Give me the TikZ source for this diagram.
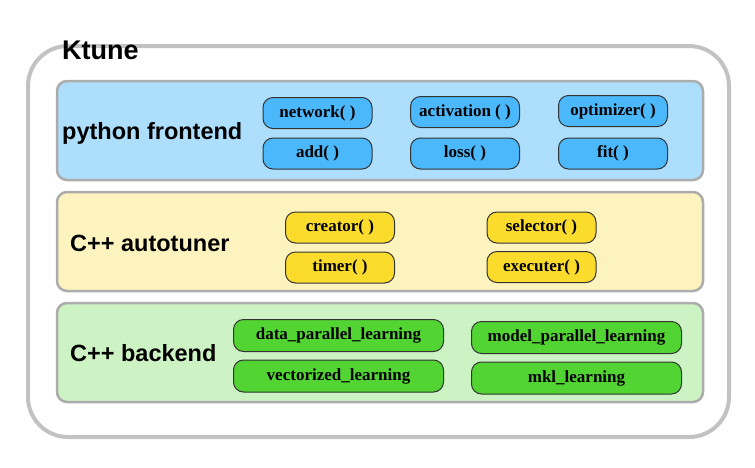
\documentclass[tikz,border=0pt]{standalone}
\usepackage{fontspec}
\setmainfont{Liberation Serif}
\newfontfamily\headfont{Liberation Sans}
\newfontfamily\pillfont{Liberation Serif}
\usetikzlibrary{positioning}
\definecolor{framegray}{RGB}{194,194,194}
\definecolor{bandgray}{RGB}{172,172,172}
\definecolor{pyband}{RGB}{173,223,253}
\definecolor{pypill}{RGB}{74,184,251}
\definecolor{tuneband}{RGB}{253,243,191}
\definecolor{tunepill}{RGB}{251,220,44}
\definecolor{backband}{RGB}{205,242,196}
\definecolor{backpill}{RGB}{82,212,51}

\begin{document}
\begin{tikzpicture}[x=1pt,y=-1pt,
frame/.style={rectangle, rounded corners=40pt, draw=framegray, line width=4pt, minimum width=701pt, minimum height=391pt},
band/.style={rectangle, rounded corners=10pt, draw=bandgray, line width=2.5pt, minimum width=646pt, minimum height=99pt},
pill/.style={rectangle, rounded corners=10pt, draw=black!80, line width=1pt, minimum width=109pt, minimum height=31pt, inner sep=0pt, font=\pillfont\bfseries\fontsize{17}{17}\selectfont},
widepill/.style={pill, minimum width=210pt, minimum height=32pt},
heading/.style={anchor=base west, inner sep=0pt, font=\headfont\bfseries\fontsize{23.5}{24}\selectfont},
]
\useasboundingbox (0,0) rectangle (755,467);

\node[frame]                      (ktune)    at (378.5,241.5)  {};
\node[heading, font=\headfont\bfseries\fontsize{27}{28}\selectfont]
                                  (ktunelbl) at (62,59)        {Ktune};

% layers
\node[band, fill=pyband]          (python)   at (380,130.5)    {};
\node[band, fill=tuneband]        (tuner)    at (380,241.5)    {};
\node[band, fill=backband]        (backend)  at (380,352.5)    {};

\node[heading]                    (pylbl)    at (62,139)       {python frontend};
\node[heading]                    (tunelbl)  at (70,251)       {C++ autotuner};
\node[heading]                    (backlbl)  at (70,361)       {C++ backend};

% python frontend
\node[pill, fill=pypill]          (network)  at (317.5,113)    {network( )};
\node[pill, fill=pypill]          (add)      at (317.5,153.5)  {add( )};
\node[pill, fill=pypill]          (activ)    at (465,112)      {activation ( )};
\node[pill, fill=pypill]          (loss)     at (465,153.5)    {loss( )};
\node[pill, fill=pypill]          (optim)    at (613,111)      {optimizer( )};
\node[pill, fill=pypill]          (fit)      at (613,153.5)    {fit( )};

% C++ autotuner
\node[pill, fill=tunepill]        (creator)  at (340,227.5)    {creator( )};
\node[pill, fill=tunepill]        (timer)    at (340,267.5)    {timer( )};
\node[pill, fill=tunepill]        (selector) at (541.5,227.5)  {selector( )};
\node[pill, fill=tunepill]        (executer) at (541.5,267)    {executer( )};

% C++ backend
\node[widepill, fill=backpill]    (datapar)  at (338.5,335.5)  {data\_parallel\_learning};
\node[widepill, fill=backpill]    (vector)   at (338.5,376)    {vectorized\_learning};
\node[widepill, fill=backpill]    (modelpar) at (576.5,337.5)  {model\_parallel\_learning};
\node[widepill, fill=backpill]    (mkl)      at (576.5,378)    {mkl\_learning};
\end{tikzpicture}
\end{document}
